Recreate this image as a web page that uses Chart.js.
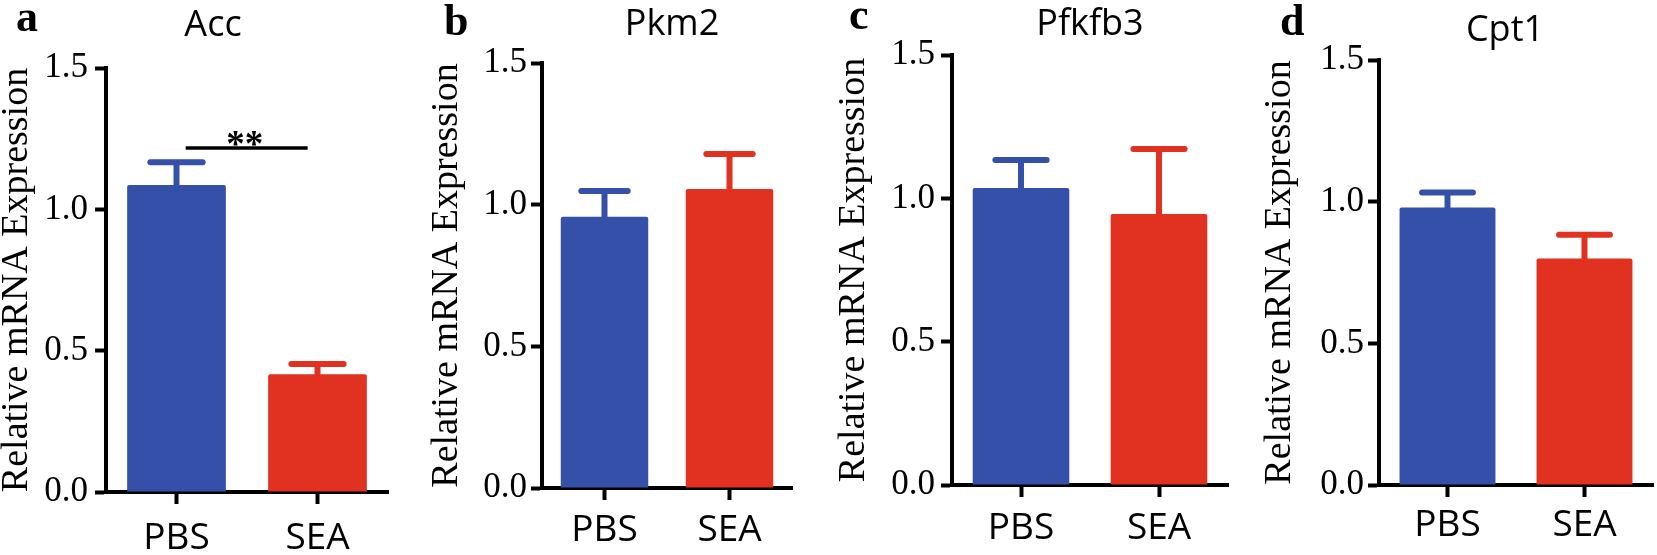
<!DOCTYPE html>
<html>
<head>
<meta charset="utf-8">
<script src="https://cdn.jsdelivr.net/npm/chart.js@4.4.1/dist/chart.umd.min.js"></script>
<style>
  html, body { margin: 0; padding: 0; background: #fff; }
  body { width: 1657px; height: 555px; position: relative; overflow: hidden; }
  canvas { position: absolute; top: 0; }
</style>
</head>
<body>
<canvas id="panel-a"></canvas>
<canvas id="panel-b"></canvas>
<canvas id="panel-c"></canvas>
<canvas id="panel-d"></canvas>
<script>
// Data
const groups = ["PBS", "SEA"];
const genes = ["Acc", "Pkm2", "Pfkfb3", "Cpt1"];
const panelLetters = ["a", "b", "c", "d"];
const yTicks = [0, 0.5, 1.0, 1.5];

const accMeans = [1.086, 0.417];
const accErrors = [0.081, 0.036];
const pkm2Means = [0.957, 1.055];
const pkm2Errors = [0.091, 0.124];
const pfkfb3Means = [1.036, 0.945];
const pfkfb3Errors = [0.098, 0.227];
const cpt1Means = [0.979, 0.799];
const cpt1Errors = [0.053, 0.084];

// significance bracket in panel a (category index span, y value)
const accSigSpan = [0.065, 0.93];
const accSigLevel = 1.217;
const accSigText = "**";

const colors = ["#3550A9", "#E03121"];
const serif = "'Liberation Serif', 'Times New Roman', serif";
const sans = "'Open Sans', 'Noto Sans', sans-serif";

// where each panel sits on the page
const layouts = [
  { id: "panel-a", left: 0, width: 420, padLeft: 0, yWidth: 106, padTop: 68, xHeight: 63, padRight: 32, yTickPad: 7, xTickPad: 12, letter: [16, 31], title: [213, 36] },
  { id: "panel-b", left: 420, width: 415, padLeft: 10, yWidth: 112, padTop: 63, xHeight: 67, padRight: 43, yTickPad: 4, xTickPad: 8, letter: [444, 35], title: [672, 35] },
  { id: "panel-c", left: 835, width: 405, padLeft: 2, yWidth: 115, padTop: 55, xHeight: 70, padRight: 12, yTickPad: 6, xTickPad: 9, letter: [849, 29], title: [1090, 35] },
  { id: "panel-d", left: 1240, width: 417, padLeft: 23, yWidth: 116, padTop: 60, xHeight: 70, padRight: 4, yTickPad: 4, xTickPad: 6, letter: [1280, 35], title: [1505, 41] },
];

const panelData = [
  { means: accMeans, errors: accErrors },
  { means: pkm2Means, errors: pkm2Errors },
  { means: pfkfb3Means, errors: pfkfb3Errors },
  { means: cpt1Means, errors: cpt1Errors },
];

// Error bars (mean + SEM, upper only)
const errorBars = {
  id: "errorBars",
  afterDatasetsDraw(chart) {
    const { ctx } = chart;
    const y = chart.scales.y;
    const ds = chart.data.datasets[0];
    chart.getDatasetMeta(0).data.forEach((bar, i) => {
      const top = y.getPixelForValue(ds.data[i]);
      const capY = y.getPixelForValue(ds.data[i] + ds.errors[i]);
      const half = bar.width * 0.265;
      ctx.save();
      ctx.strokeStyle = ds.backgroundColor[i];
      ctx.lineWidth = 6;
      ctx.beginPath();
      ctx.moveTo(bar.x, top + 2);
      ctx.lineTo(bar.x, capY);
      ctx.stroke();
      ctx.lineCap = "round";
      ctx.beginPath();
      ctx.moveTo(bar.x - half, capY);
      ctx.lineTo(bar.x + half, capY);
      ctx.stroke();
      ctx.restore();
    });
  },
};

function makeLabels(idx) {
  const lay = layouts[idx];
  return {
    id: "panelLabels",
    afterDraw(chart) {
      const ctx = chart.ctx;
      ctx.save();
      ctx.fillStyle = "#000";
      ctx.textBaseline = "alphabetic";
      ctx.textAlign = "left";
      ctx.font = "bold 44px " + serif;
      ctx.fillText(panelLetters[idx], lay.letter[0] - lay.left, lay.letter[1]);
      ctx.textAlign = "center";
      ctx.font = "36px " + sans;
      ctx.fillText(genes[idx], lay.title[0] - lay.left, lay.title[1]);

      if (idx === 0) {
        const x = chart.scales.x;
        const y = chart.scales.y;
        const yy = y.getPixelForValue(accSigLevel);
        const x1 = x.getPixelForValue(accSigSpan[0]);
        const x2 = x.getPixelForValue(accSigSpan[1]);
        ctx.strokeStyle = "#000";
        ctx.lineWidth = 3.5;
        ctx.beginPath();
        ctx.moveTo(x1, yy);
        ctx.lineTo(x2, yy);
        ctx.stroke();
        ctx.font = "bold 37px " + serif;
        ctx.textAlign = "center";
        ctx.fillText(accSigText, (x1 + x2) / 2 - 2, yy + 8);
      }
      ctx.restore();
    },
  };
}

layouts.forEach((lay, idx) => {
  const canvas = document.getElementById(lay.id);
  canvas.width = lay.width;
  canvas.height = 555;
  canvas.style.left = lay.left + "px";
  canvas.style.width = lay.width + "px";
  canvas.style.height = "555px";

  new Chart(canvas.getContext("2d"), {
    type: "bar",
    data: {
      labels: groups,
      datasets: [{
        data: panelData[idx].means,
        errors: panelData[idx].errors,
        backgroundColor: colors,
        borderWidth: 0,
        borderRadius: 2,
        borderSkipped: "bottom",
        barPercentage: 0.7,
        categoryPercentage: 1.0,
      }],
    },
    options: {
      responsive: false,
      animation: false,
      devicePixelRatio: 1,
      layout: { padding: { left: lay.padLeft, top: lay.padTop, right: lay.padRight, bottom: 0 } },
      plugins: { legend: { display: false }, tooltip: { enabled: false }, title: { display: false } },
      scales: {
        x: {
          offset: true,
          afterFit: (scale) => { scale.height = lay.xHeight; },
          border: { display: true, color: "#000", width: 4 },
          grid: { offset: false, drawOnChartArea: false, drawTicks: true, tickLength: 12, tickWidth: 4, tickColor: "#000" },
          ticks: { color: "#000", padding: lay.xTickPad, font: { family: sans, size: 37 }, maxRotation: 0 },
        },
        y: {
          min: yTicks[0],
          max: yTicks[yTicks.length - 1],
          afterFit: (scale) => { scale.width = lay.yWidth; },
          afterBuildTicks: (scale) => { scale.ticks = yTicks.map((v) => ({ value: v })); },
          border: { display: true, color: "#000", width: 4 },
          grid: { drawOnChartArea: false, drawTicks: true, tickLength: 11, tickWidth: 4, tickColor: "#000" },
          ticks: {
            color: "#000",
            padding: lay.yTickPad,
            font: { family: serif, size: 35 },
            callback: (v) => Number(v).toFixed(1),
          },
          title: {
            display: true,
            text: "Relative mRNA Expression",
            color: "#000",
            font: { family: serif, size: 38, lineHeight: 0.9 },
            padding: 0,
          },
        },
      },
    },
    plugins: [errorBars, makeLabels(idx)],
  });
});
</script>
</body>
</html>
